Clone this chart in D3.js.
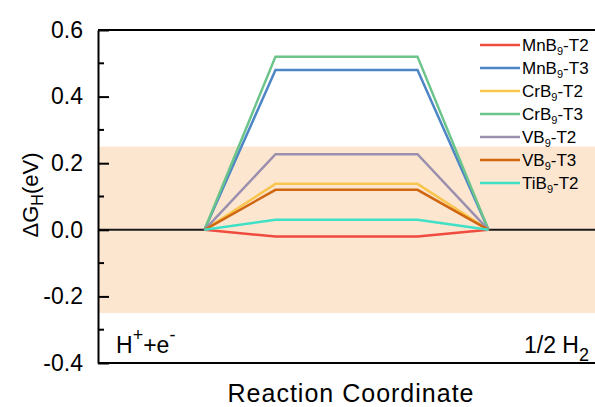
<!DOCTYPE html>
<html>
<head>
<meta charset="utf-8">
<script src="https://cdn.jsdelivr.net/npm/d3@7"></script>
<style>
  body { margin: 0; background: #fff; }
  svg { font-family: Arial, "Liberation Sans", sans-serif; }
  .tick text { font-size: 23px; fill: #000; }
</style>
</head>
<body>
<svg id="chart" width="595" height="407"></svg>
<script>
// Series names, peak dG (eV) and colours
const seriesNames = ['MnB9-T2', 'MnB9-T3', 'CrB9-T2', 'CrB9-T3', 'VB9-T2', 'VB9-T3', 'TiB9-T2'];
const peakValues = [-0.02, 0.48, 0.138, 0.52, 0.227, 0.12, 0.03];
const seriesColors = ['#ef4b3f', '#4e86c6', '#f8c64e', '#6bc48a', '#9b8fae', '#d0660f', '#3fe0c6'];

// reaction coordinate positions: initial state, intermediate (plateau), final state
const pathX = [1.5, 2.5, 4.5, 5.5];
const baseLeftX = [0, 1.5];
const baseRightX = [5.5, 7];

const yTicks = [0.6, 0.4, 0.2, 0.0, -0.2, -0.4];
const yMinorTicks = [0.5, 0.3, 0.1, -0.1, -0.3];
const bandRange = [-0.25, 0.25];

const margin = { top: 30, left: 98, right: 0, bottom: 44 };
const width = 595 - margin.left - margin.right;
const height = 407 - margin.top - margin.bottom;

const svg = d3.select('#chart');
const g = svg.append('g').attr('transform', `translate(${margin.left},${margin.top})`);

const x = d3.scaleLinear().domain([0, 7]).range([0, width]);
const y = d3.scaleLinear().domain([-0.4, 0.6]).range([height, 0]);

// shaded band
g.append('rect')
  .attr('x', 0)
  .attr('width', width)
  .attr('y', y(bandRange[1]))
  .attr('height', y(bandRange[0]) - y(bandRange[1]))
  .attr('fill', '#fce6d0');

const line = d3.line().x((d) => x(d[0])).y((d) => y(d[1]));

// black baselines for initial and final states
[baseLeftX, baseRightX].forEach((xs) => {
  g.append('path')
    .attr('d', line(xs.map((v) => [v, 0])))
    .attr('fill', 'none')
    .attr('stroke', '#1a1a1a')
    .attr('stroke-width', 2);
});

// free-energy paths
seriesNames.forEach((name, i) => {
  const vals = [0, peakValues[i], peakValues[i], 0];
  g.append('path')
    .attr('d', line(pathX.map((v, j) => [v, vals[j]])))
    .attr('fill', 'none')
    .attr('stroke', seriesColors[i])
    .attr('stroke-width', 2.5);
});

// axes
const yAxis = g.append('g')
  .call(d3.axisLeft(y).tickValues(yTicks).tickFormat((d) => d.toFixed(1)).tickSizeInner(-11).tickSizeOuter(0).tickPadding(15));
yAxis.select('.domain').attr('stroke', '#000').attr('stroke-width', 2);
yAxis.selectAll('.tick line').attr('stroke-width', 2);

g.append('g')
  .selectAll('line')
  .data(yMinorTicks)
  .join('line')
  .attr('x1', 0)
  .attr('x2', 6)
  .attr('y1', (d) => y(d))
  .attr('y2', (d) => y(d))
  .attr('stroke', '#000')
  .attr('stroke-width', 2);

// top and bottom frame lines
g.append('line').attr('x1', 0).attr('x2', width).attr('y1', 0).attr('y2', 0)
  .attr('stroke', '#000').attr('stroke-width', 2);
g.append('line').attr('x1', 0).attr('x2', width).attr('y1', height).attr('y2', height)
  .attr('stroke', '#000').attr('stroke-width', 2);

// axis labels
const yLabel = svg.append('text')
  .attr('transform', 'translate(38,195) rotate(-90)')
  .attr('text-anchor', 'middle')
  .attr('font-size', 22);
yLabel.append('tspan').text('ΔG');
yLabel.append('tspan').attr('dy', 5).attr('font-size', 16).text('H');
yLabel.append('tspan').attr('dy', -5).text('(eV)');

svg.append('text')
  .attr('x', margin.left + width / 2 + 4)
  .attr('y', 402)
  .attr('text-anchor', 'middle')
  .attr('font-size', 25)
  .attr('textLength', 246)
  .text('Reaction Coordinate');

// state labels
const left = svg.append('text').attr('x', 116).attr('y', 353).attr('font-size', 23);
left.append('tspan').text('H');
left.append('tspan').attr('dy', -12).attr('font-size', 18).text('+');
left.append('tspan').attr('dy', 12).text('+e');
left.append('tspan').attr('dy', -12).attr('font-size', 18).text('-');

const right = svg.append('text').attr('x', 589).attr('y', 353).attr('font-size', 23).attr('text-anchor', 'end');
right.append('tspan').text('1/2 H');
right.append('tspan').attr('dy', 8).attr('font-size', 18).text('2');

// legend
const legend = svg.append('g').attr('transform', 'translate(480,45)');
seriesNames.forEach((name, i) => {
  const row = legend.append('g').attr('transform', `translate(0,${i * 23})`);
  row.append('line').attr('x1', 0).attr('x2', 40).attr('y1', 0).attr('y2', 0)
    .attr('stroke', seriesColors[i]).attr('stroke-width', 2.5);
  const t = row.append('text').attr('x', 42).attr('y', 6).attr('font-size', 17);
  const parts = name.split('9');
  t.append('tspan').text(parts[0]);
  t.append('tspan').attr('dy', 4).attr('font-size', 11).text('9');
  t.append('tspan').attr('dy', -4).text(parts[1]);
});
</script>
</body>
</html>
